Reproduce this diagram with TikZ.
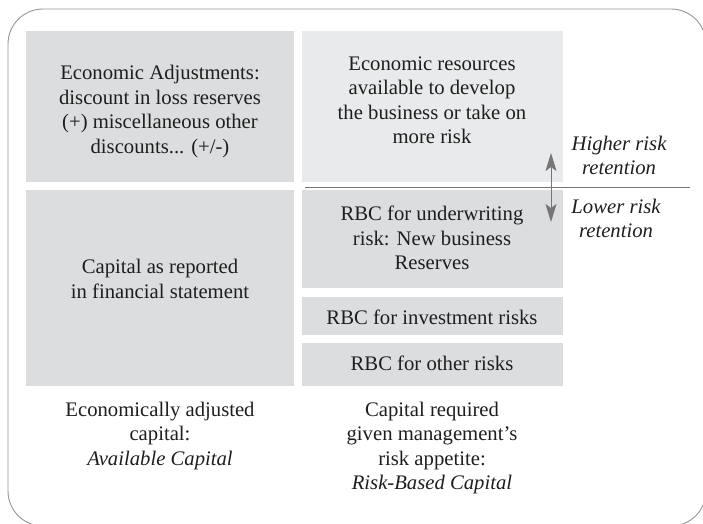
\documentclass[tikz,border=0pt]{standalone}
\usepackage{fontspec}
\setmainfont{Liberation Serif}
\usetikzlibrary{arrows.meta}
\definecolor{boxdark}{HTML}{DCDDDF}
\definecolor{boxlight}{HTML}{E9EAEB}
\definecolor{ink}{HTML}{1E1E1E}
\definecolor{rulegray}{HTML}{767676}
\definecolor{framegray}{HTML}{959595}
\begin{document}
\begin{tikzpicture}[x=1pt,y=-1pt,
  panel/.style={fill=#1,draw=none,anchor=north west,inner sep=0pt},
  label/.style={text=ink,align=center,inner sep=0pt,font=\fontsize{20.7}{24.5}\selectfont},
  side/.style={label,font=\fontsize{20.7}{23.5}\selectfont\itshape},
  >={Stealth[length=18pt,width=11pt,inset=4pt]}]
\useasboundingbox (0,0) rectangle (703,523);
% outer frame, running off the right and bottom edges
\begin{scope}
\clip (0,0) rectangle (703,523);
\draw[framegray,line width=0.9pt,rounded corners=35pt] (8,9) rectangle (706,526);
\end{scope}
% left column
\node[panel=boxdark,minimum width=268pt,minimum height=151pt] (adj) at (26,31) {};
\node[panel=boxdark,minimum width=268pt,minimum height=196pt] (cap) at (26,190) {};
% right column
\node[panel=boxlight,minimum width=261pt,minimum height=151pt] (res) at (302,31) {};
\node[panel=boxdark,minimum width=261pt,minimum height=98pt] (uw) at (302,190) {};
\node[panel=boxdark,minimum width=261pt,minimum height=38pt] (inv) at (302,297) {};
\node[panel=boxdark,minimum width=261pt,minimum height=43pt] (oth) at (302,343) {};
% texts in the panels
\node[label] (tadj) at (160,111.5) {Economic Adjustments:\\discount in loss reserves\\(+) miscellaneous other\\discounts... (+/-)};
\node[label] (tres) at (432,100) {Economic resources\\available to develop\\the business or take on\\more risk};
\node[label] (tcap) at (160,279) {Capital as reported\\in financial statement};
\node[label] (tuw) at (432,238) {RBC for underwriting\\risk: New business\\Reserves};
\node[label] (tinv) at (432,317) {RBC for investment risks};
\node[label] (toth) at (432,363) {RBC for other risks};
% captions under the columns
\node[label] (cleft) at (160,436) {Economically adjusted\\capital:\\\textit{Available Capital}};
\node[label] (cright) at (432,448) {Capital required\\given management's\\risk appetite:\\\textit{Risk-Based Capital}};
% retention divider and arrow
\coordinate (la) at (305,187);
\coordinate (lb) at (690,187);
\draw[rulegray,line width=1pt] (la) -- (lb);
\coordinate (aup) at (551,153);
\coordinate (adn) at (551,222);
\draw[rulegray,line width=1pt,<->] (adn) -- (aup);
\node[side] (hi) at (619,155.5) {Higher risk\\retention};
\node[side] (lo) at (616,218.5) {Lower risk\\retention};
\end{tikzpicture}
\end{document}
